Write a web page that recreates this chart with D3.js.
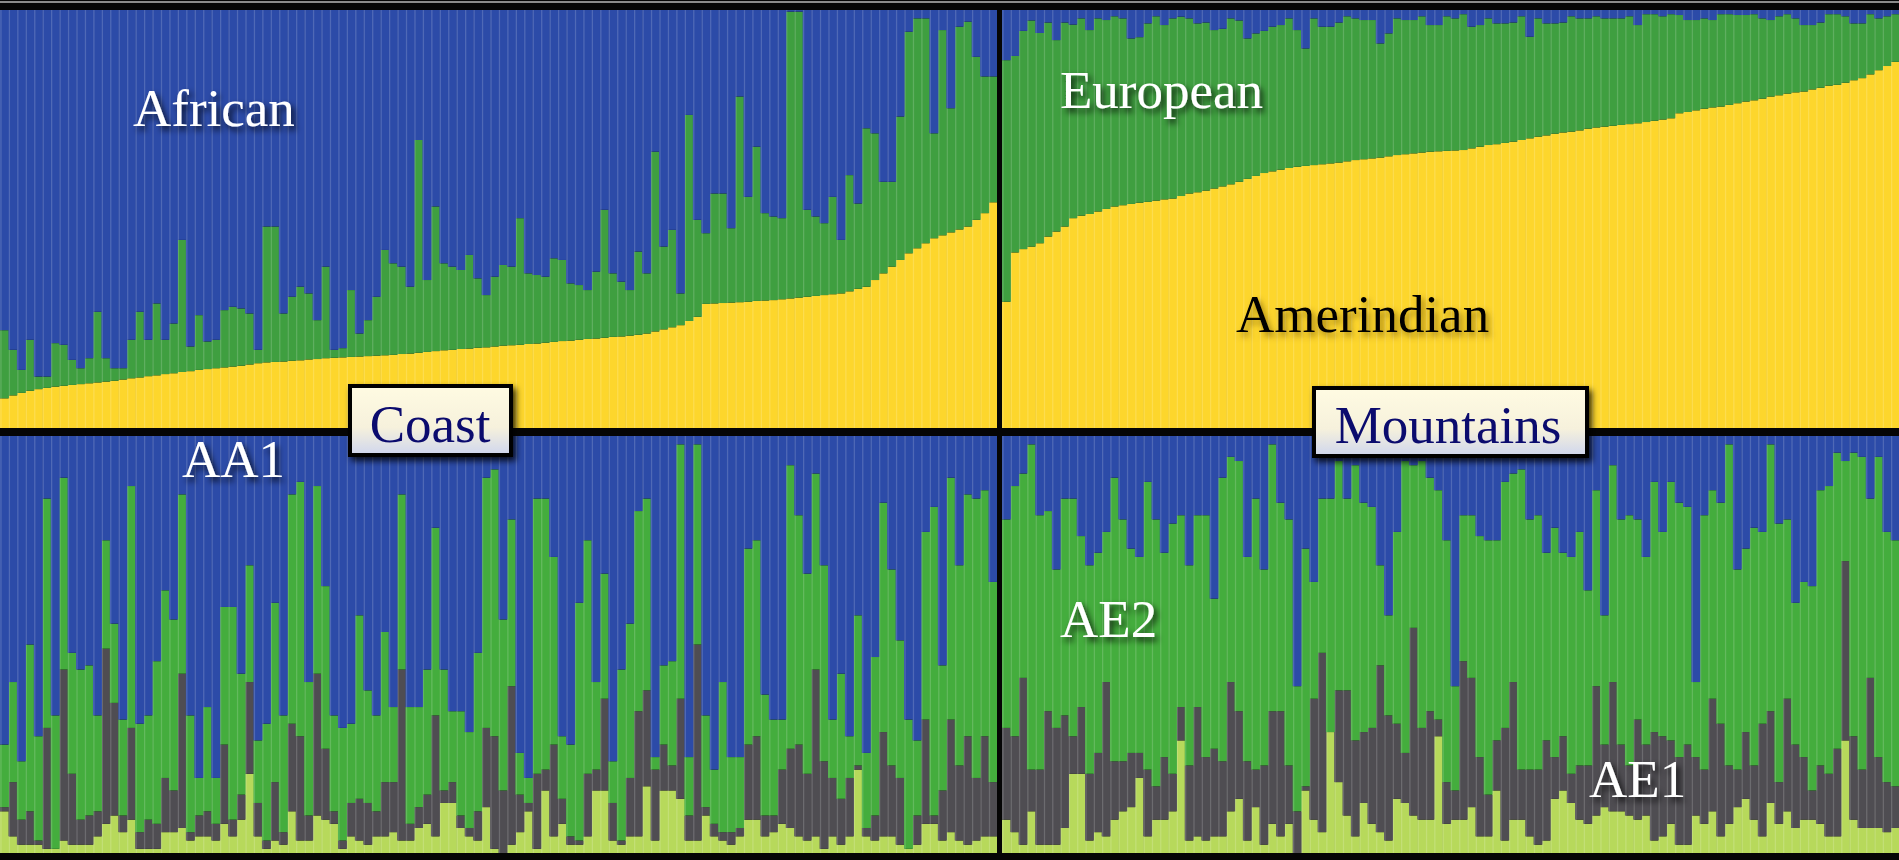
<!DOCTYPE html>
<html><head><meta charset="utf-8">
<script src="https://cdn.jsdelivr.net/npm/d3@7"></script>
<style>html,body{margin:0;padding:0;background:#000;overflow:hidden}</style>
</head><body><svg id="c" width="1899" height="860"></svg>
<script>
// ---------- DATA (admixture proportions per individual) ----------
const sections = ["Coast", "Mountains"];
const topClusters = ["Amerindian", "European", "African"];
const bottomClusters = ["K4", "AE1", "AE2", "AA1"];

// Top panel (K=3), Coast individuals: Amerindian and African fractions (European = remainder)
const coastAmerindian = [0.071,0.078,0.084,0.089,0.093,0.096,0.099,0.101,0.103,0.105,
0.107,0.109,0.111,0.113,0.116,0.119,0.121,0.124,0.126,0.129,
0.131,0.134,0.136,0.139,0.141,0.143,0.145,0.147,0.149,0.152,
0.155,0.157,0.158,0.159,0.161,0.162,0.164,0.165,0.167,0.168,
0.169,0.170,0.171,0.172,0.173,0.174,0.175,0.177,0.178,0.180,
0.182,0.184,0.186,0.187,0.189,0.190,0.192,0.193,0.195,0.197,
0.198,0.199,0.201,0.202,0.204,0.206,0.208,0.209,0.211,0.213,
0.214,0.216,0.218,0.219,0.221,0.223,0.226,0.231,0.236,0.241,
0.246,0.256,0.266,0.297,0.298,0.299,0.300,0.301,0.302,0.304,
0.305,0.306,0.308,0.310,0.312,0.314,0.316,0.318,0.320,0.322,
0.327,0.333,0.338,0.354,0.370,0.386,0.402,0.418,0.430,0.442,
0.454,0.461,0.468,0.475,0.482,0.498,0.514,0.540];
const coastAfrican = [0.766,0.813,0.861,0.789,0.877,0.877,0.797,0.801,0.837,0.857,
0.833,0.722,0.833,0.857,0.857,0.789,0.722,0.789,0.702,0.789,
0.750,0.550,0.805,0.730,0.793,0.789,0.718,0.710,0.714,0.726,
0.813,0.518,0.518,0.726,0.686,0.662,0.678,0.742,0.614,0.813,
0.809,0.670,0.774,0.742,0.686,0.574,0.606,0.614,0.662,0.311,
0.646,0.470,0.606,0.614,0.622,0.586,0.642,0.682,0.638,0.610,
0.614,0.498,0.630,0.634,0.638,0.594,0.598,0.654,0.658,0.670,
0.626,0.478,0.630,0.650,0.670,0.578,0.630,0.339,0.566,0.526,
0.678,0.251,0.502,0.534,0.439,0.439,0.522,0.207,0.447,0.327,
0.486,0.494,0.498,0.004,0.004,0.478,0.494,0.510,0.447,0.550,
0.395,0.463,0.283,0.295,0.411,0.411,0.255,0.052,0.020,0.020,
0.295,0.048,0.235,0.040,0.028,0.112,0.159,0.159];

// Top panel, Mountains individuals
const mtnAmerindian = [0.302,0.420,0.428,0.434,0.442,0.458,0.470,0.482,0.502,0.508,
0.512,0.518,0.524,0.530,0.533,0.536,0.539,0.541,0.544,0.547,
0.549,0.555,0.561,0.564,0.568,0.573,0.578,0.583,0.589,0.596,
0.603,0.610,0.614,0.618,0.622,0.625,0.627,0.629,0.631,0.633,
0.635,0.638,0.641,0.643,0.645,0.647,0.650,0.653,0.655,0.657,
0.659,0.661,0.662,0.663,0.664,0.665,0.669,0.673,0.677,0.679,
0.682,0.685,0.689,0.693,0.697,0.700,0.704,0.707,0.709,0.712,
0.716,0.719,0.721,0.723,0.725,0.727,0.729,0.732,0.735,0.738,
0.741,0.753,0.756,0.760,0.764,0.767,0.769,0.773,0.777,0.781,
0.784,0.788,0.793,0.796,0.800,0.803,0.805,0.810,0.814,0.819,
0.821,0.826,0.832,0.837,0.846,0.856,0.866,0.876];
const mtnAfrican = [0.12,0.11,0.05,0.025,0.055,0.03,0.072,0.03,0.035,0.02,
0.048,0.02,0.024,0.015,0.02,0.068,0.065,0.032,0.015,0.036,
0.02,0.016,0.02,0.032,0.03,0.048,0.045,0.02,0.025,0.068,
0.056,0.05,0.04,0.036,0.02,0.048,0.092,0.02,0.04,0.04,
0.03,0.015,0.02,0.024,0.024,0.08,0.056,0.02,0.024,0.024,
0.015,0.036,0.036,0.015,0.02,0.01,0.04,0.036,0.02,0.032,
0.032,0.03,0.015,0.064,0.02,0.032,0.032,0.03,0.015,0.02,
0.02,0.015,0.02,0.02,0.02,0.015,0.036,0.01,0.01,0.015,
0.01,0.012,0.024,0.024,0.02,0.024,0.01,0.01,0.012,0.012,
0.01,0.02,0.024,0.015,0.01,0.02,0.036,0.036,0.03,0.01,
0.01,0.015,0.032,0.032,0.01,0.02,0.015,0.01];

// Bottom panel (K=4), percent; AE2 = remainder
const coastK4 = [10,4,2,2,2,1,1,3,2,2, 2,4,7,9,5,8,1,1,1,5, 5,6,3,4,4,3,7,4,8,19, 4,1,3,2,10,3,3,9,8,7,
1,4,3,2,4,4,5,3,3,6, 7,4,12,12,6,4,3,11,1,0, 2,5,10,1,15,4,7,2,2,4, 15,15,3,2,4,4,16,3,15,15,
13,3,3,9,4,3,2,4,8,8, 4,5,7,6,4,3,4,1,4,2, 4,20,4,3,4,4,2,1,2,7, 7,3,5,3,2,3,4,4];
const coastAE1 = [1,13,6,8,1,29,0,41,17,6, 7,6,42,27,4,22,4,7,6,13, 10,37,2,5,6,4,19,4,6,22, 8,2,14,3,21,25,6,34,17,3,
2,8,10,10,6,13,12,41,4,5, 7,29,3,5,3,2,7,19,27,15, 38,9,2,18,5,22,6,2,1,15, 5,22,9,1,14,30,23,17,11,6,
24,6,47,2,3,2,3,2,18,20, 5,4,13,19,22,16,40,21,14,11, 14,1,2,6,25,17,16,0,7,25, 2,12,27,18,26,15,24,13];
const coastAA1 = [74,59,78,50,72,15,67,10,52,56, 55,67,25,45,68,12,69,67,54,37, 44,14,67,82,65,82,41,41,57,31, 73,69,40,67,14,11,59,12,36,67,
70,69,43,61,67,47,65,14,65,65, 56,22,56,66,66,71,52,10,8,44, 20,76,82,15,15,29,72,74,40,25, 59,33,78,56,45,18,15,77,55,54,
2,77,2,67,80,59,77,77,27,25, 62,68,68,7,19,33,9,31,68,57, 72,43,76,53,16,32,49,68,73,23, 17,55,10,31,14,15,13,35];

const mtnK4 = [8,5,2,10,2,2,2,6,19,19, 3,5,4,8,10,11,18,4,8,8, 10,27,3,4,3,4,4,10,13,3, 11,2,7,4,7,0,15,8,5,29,
17,9,4,12,7,5,3,13,12,9, 8,8,28,7,8,8,11,4,4,15, 3,8,8,4,2,3,13,15,12,8, 7,9,11,10,10,9,8,9,3,4,
7,2,2,9,7,10,4,7,11,13, 8,4,12,7,10,6,8,8,7,4, 4,27,8,6,6,6,5,6];
const mtnAE1 = [22,23,40,10,18,32,28,27,9,16, 16,19,37,14,12,13,6,16,8,15, 9,8,18,31,20,21,18,31,21,19, 9,19,27,30,14,10,1,29,43,0,
22,30,23,17,23,40,30,18,12,45, 22,26,4,10,7,38,31,19,10,12, 27,33,12,16,18,24,10,13,7,13, 14,31,15,31,16,12,24,17,26,24,
20,21,24,14,13,27,27,14,9,16, 13,27,22,10,27,20,15,7,14,15, 21,43,20,14,36,17,12,10];
const mtnAA1 = [20,12,9,2,19,18,32,15,15,24, 31,28,23,10,20,27,29,11,20,28, 21,19,31,19,19,39,10,5,6,29, 15,32,2,16,20,60,27,35,15,15,
6,15,7,16,17,31,43,23,6,7, 6,10,13,25,60,19,19,24,25,25, 11,9,8,20,19,28,22,28,29,23, 37,13,43,7,20,19,20,29,11,23,
11,16,17,59,19,13,16,2,32,27, 22,23,2,21,20,40,35,36,13,12, 4,6,4,5,15,5,23,25];

// ---------- DRAWING ----------
const svg = d3.select("#c");
const W = 1899, H = 860;
const colTop = {Amerindian:"#fdd62c", European:"#3f9f40", African:"#2c4ba8"};
const colBot = {K4:"#b7d95b", AE1:"#4f4d52", AE2:"#44ad3d", AA1:"#2c4ba8"};

const defs = svg.append("defs");
const f = defs.append("filter").attr("id","sh").attr("x","-20%").attr("y","-30%").attr("width","150%").attr("height","170%");
f.append("feDropShadow").attr("dx",3).attr("dy",4).attr("stdDeviation",3).attr("flood-color","#000").attr("flood-opacity",0.8);
const f2 = defs.append("filter").attr("id","sh2").attr("x","-20%").attr("y","-30%").attr("width","150%").attr("height","170%");
f2.append("feDropShadow").attr("dx",3).attr("dy",4).attr("stdDeviation",3).attr("flood-color","#5a4300").attr("flood-opacity",0.6);
const g1 = defs.append("linearGradient").attr("id","boxg").attr("x1",0).attr("y1",0).attr("x2",0).attr("y2",1);
g1.append("stop").attr("offset","0%").attr("stop-color","#fffbe2");
g1.append("stop").attr("offset","60%").attr("stop-color","#f6f1dc");
g1.append("stop").attr("offset","100%").attr("stop-color","#cfd6ee");

svg.append("rect").attr("width",W).attr("height",H).attr("fill","#000");

const yTop = d3.scaleLinear().domain([0,1]).range([428,10]);
const yBot = d3.scaleLinear().domain([0,1]).range([853,436]);

const parts = [
  {name:"Coast", range:[0,997], amer:coastAmerindian, afr:coastAfrican, k4:coastK4, ae1:coastAE1, aa1:coastAA1},
  {name:"Mountains", range:[1002,1899], amer:mtnAmerindian, afr:mtnAfrican, k4:mtnK4, ae1:mtnAE1, aa1:mtnAA1}
];

const stackTop = d3.stack().keys(topClusters);
const stackBot = d3.stack().keys(bottomClusters);

parts.forEach(p => {
  const x = d3.scaleBand().domain(d3.range(p.amer.length)).range(p.range);
  const rowsTop = p.amer.map((a,i) => ({Amerindian:a, African:p.afr[i], European:Math.max(0,1-a-p.afr[i])}));
  const xb = d3.scaleBand().domain(d3.range(p.k4.length)).range(p.range);
  const rowsBot = p.k4.map((k,i) => {
    const ae2 = Math.max(0, 100 - k - p.ae1[i] - p.aa1[i]);
    return {K4:k/100, AE1:p.ae1[i]/100, AE2:ae2/100, AA1:p.aa1[i]/100};
  });

  const gt = svg.append("g");
  stackTop(rowsTop).forEach(s => {
    gt.selectAll(null).data(s).enter().append("rect")
      .attr("x",(d,i)=>x(i)).attr("width",x.bandwidth()+0.6)
      .attr("y",d=>yTop(d[1])).attr("height",d=>Math.max(0,yTop(d[0])-yTop(d[1])))
      .attr("fill",colTop[s.key]);
  });
  gt.selectAll(null).data(d3.range(p.amer.length)).enter().append("rect")
    .attr("x",i=>x(i)+0.3).attr("width",1.3).attr("y",10).attr("height",418)
    .attr("fill","#fff").attr("opacity",0.17);

  const gb = svg.append("g");
  stackBot(rowsBot).forEach(s => {
    gb.selectAll(null).data(s).enter().append("rect")
      .attr("x",(d,i)=>xb(i)).attr("width",xb.bandwidth()+0.6)
      .attr("y",d=>yBot(d[1])).attr("height",d=>Math.max(0,yBot(d[0])-yBot(d[1])))
      .attr("fill",colBot[s.key]);
  });
  gb.selectAll(null).data(d3.range(p.k4.length)).enter().append("rect")
    .attr("x",i=>xb(i)+0.3).attr("width",1.3).attr("y",436).attr("height",417)
    .attr("fill","#fff").attr("opacity",0.17);
});

// frame lines
svg.append("rect").attr("x",0).attr("y",0).attr("width",W).attr("height",10).attr("fill","#050505");
svg.append("rect").attr("x",0).attr("y",1).attr("width",W).attr("height",2).attr("fill","#8a8a8a");
svg.append("rect").attr("x",0).attr("y",428).attr("width",W).attr("height",8).attr("fill","#050505");
svg.append("rect").attr("x",0).attr("y",853).attr("width",W).attr("height",7).attr("fill","#050505");
svg.append("rect").attr("x",997).attr("y",10).attr("width",5).attr("height",845).attr("fill","#050505");

// labels
const serif = "'Liberation Serif','Times New Roman',serif";
function lab(t, x, y, fill, filt){
  svg.append("text").attr("x",x).attr("y",y).text(t)
    .attr("font-family",serif).attr("font-size",53).attr("fill",fill).attr("filter",filt);
}
lab("African", 133, 126, "#fff", "url(#sh)");
lab("European", 1060, 108, "#fff", "url(#sh)");
lab("Amerindian", 1236, 332, "#000", "url(#sh2)");
lab("AA1", 182, 477, "#fff", "url(#sh)");
lab("AE2", 1060, 637, "#fff", "url(#sh)");
lab("AE1", 1589, 797, "#fff", "url(#sh)");

// section boxes
const boxes = [{name:sections[0], x:350, y:386, w:161, h:69, tx:430, ty:442},
               {name:sections[1], x:1314, y:388, w:273, h:68, tx:1448, ty:443}];
boxes.forEach(b => {
  svg.append("rect").attr("x",b.x).attr("y",b.y).attr("width",b.w).attr("height",b.h)
    .attr("fill","url(#boxg)").attr("stroke","#000").attr("stroke-width",4).attr("filter","url(#sh)");
  svg.append("text").attr("x",b.tx).attr("y",b.ty).attr("text-anchor","middle").text(b.name)
    .attr("font-family",serif).attr("font-size",53).attr("fill","#0b0b6e");
});
</script></body></html>
